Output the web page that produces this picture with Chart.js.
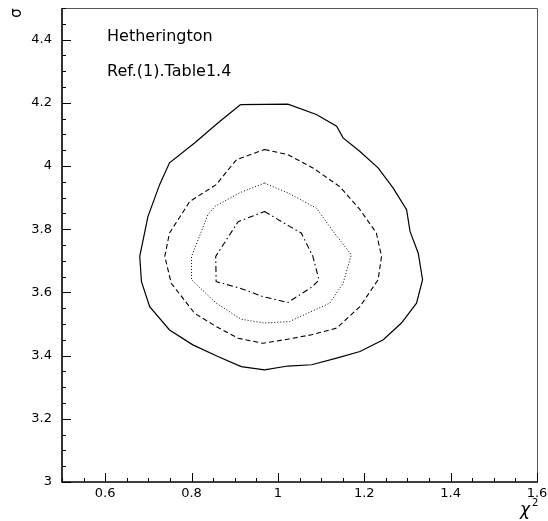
<!DOCTYPE html>
<html>
<head>
<meta charset="utf-8">
<script src="https://cdn.jsdelivr.net/npm/chart.js@4.4.1/dist/chart.umd.min.js"></script>
<style>
  html, body { margin: 0; padding: 0; background: #fff; }
  #chart { display: block; }
</style>
</head>
<body>
<canvas id="chart" width="548" height="521"></canvas>
<script>
// contour levels (chi2, sigma)
var solidX = [0.913, 1.023, 1.089, 1.136, 1.151, 1.190, 1.232, 1.267, 1.298, 1.306, 1.325, 1.335, 1.321, 1.286, 1.244, 1.190, 1.136, 1.078, 1.023, 0.969, 0.915, 0.861, 0.803, 0.749, 0.703, 0.684, 0.680, 0.699, 0.726, 0.749, 0.807, 0.861, 0.913];
var solidY = [4.194, 4.196, 4.163, 4.126, 4.089, 4.046, 3.994, 3.930, 3.862, 3.793, 3.724, 3.640, 3.566, 3.503, 3.450, 3.413, 3.392, 3.371, 3.367, 3.355, 3.365, 3.397, 3.434, 3.481, 3.555, 3.634, 3.714, 3.840, 3.941, 4.010, 4.073, 4.136, 4.194];

var dashedX = [0.969, 1.023, 1.081, 1.143, 1.190, 1.228, 1.240, 1.232, 1.190, 1.136, 1.078, 1.023, 0.965, 0.908, 0.857, 0.807, 0.753, 0.738, 0.749, 0.796, 0.857, 0.904, 0.969];
var dashedY = [4.052, 4.036, 3.994, 3.935, 3.862, 3.788, 3.714, 3.640, 3.555, 3.487, 3.466, 3.452, 3.439, 3.455, 3.492, 3.534, 3.629, 3.714, 3.788, 3.888, 3.941, 4.020, 4.052];

var dottedX = [0.969, 1.023, 1.089, 1.128, 1.170, 1.151, 1.120, 1.027, 0.969, 0.915, 0.857, 0.800, 0.800, 0.838, 0.854, 0.911, 0.969];
var dottedY = [3.946, 3.915, 3.867, 3.793, 3.719, 3.629, 3.566, 3.508, 3.503, 3.515, 3.566, 3.640, 3.714, 3.846, 3.872, 3.915, 3.946];

var dashDotX = [0.969, 1.027, 1.054, 1.081, 1.095, 1.081, 1.023, 0.965, 0.911, 0.857, 0.856, 0.908, 0.969];
var dashDotY = [3.856, 3.809, 3.788, 3.714, 3.640, 3.619, 3.568, 3.587, 3.614, 3.634, 3.714, 3.824, 3.856];

var xTicks = [0.6, 0.8, 1, 1.2, 1.4, 1.6];
var xTickLabels = ["0.6", "0.8", "1", "1.2", "1.4", "1.6"];
var yTicks = [3, 3.2, 3.4, 3.6, 3.8, 4, 4.2, 4.4];
var yTickLabels = ["3", "3.2", "3.4", "3.6", "3.8", "4", "4.2", "4.4"];

function pts(xs, ys) {
  return xs.map(function (x, i) { return { x: x, y: ys[i] }; });
}

function line(xs, ys, dash, width) {
  return {
    data: pts(xs, ys),
    showLine: true,
    borderColor: "#000",
    borderWidth: width,
    borderDash: dash,
    pointRadius: 0,
    tension: 0,
    fill: false,
  };
}

var font = "'DejaVu Sans', 'Liberation Sans', sans-serif";

// axes, inward ticks and texts (PAW style frame)
var frame = {
  id: "frame",
  afterDraw: function (chart) {
    var ctx = chart.ctx;
    var a = chart.chartArea;
    var xs = chart.scales.x;
    var ys = chart.scales.y;
    ctx.save();

    // top and right border
    ctx.strokeStyle = "#555";
    ctx.lineWidth = 1;
    ctx.beginPath();
    ctx.moveTo(a.left, a.top + 0.5);
    ctx.lineTo(a.right + 0.5, a.top + 0.5);
    ctx.lineTo(a.right + 0.5, a.bottom);
    ctx.stroke();

    // left and bottom axis
    ctx.strokeStyle = "#000";
    ctx.lineWidth = 1.6;
    ctx.beginPath();
    ctx.moveTo(a.left, a.top);
    ctx.lineTo(a.left, a.bottom);
    ctx.lineTo(a.right + 1, a.bottom);
    ctx.stroke();

    // ticks every 0.05, major every 0.2
    ctx.lineWidth = 1;
    ctx.beginPath();
    for (var i = 10; i <= 32; i++) {
      var px = Math.round(xs.getPixelForValue(i * 0.05)) + 0.5;
      var major = (i % 4 === 0);
      ctx.moveTo(px, a.bottom);
      ctx.lineTo(px, a.bottom - (major ? 9 : 4));
    }
    for (var j = 60; j <= 90; j++) {
      var py = Math.round(ys.getPixelForValue(j * 0.05)) + 0.5;
      var majorY = (j % 4 === 0);
      ctx.moveTo(a.left, py);
      ctx.lineTo(a.left + (majorY ? 9 : 4), py);
    }
    ctx.stroke();

    // tick labels
    ctx.fillStyle = "#000";
    ctx.font = "13px " + font;
    ctx.textAlign = "center";
    ctx.textBaseline = "middle";
    xTicks.forEach(function (v, k) {
      ctx.fillText(xTickLabels[k], xs.getPixelForValue(v), a.bottom + 12);
    });
    ctx.textAlign = "right";
    yTicks.forEach(function (v, k) {
      ctx.fillText(yTickLabels[k], a.left - 10, ys.getPixelForValue(v));
    });

    // axis titles
    ctx.save();
    ctx.translate(17, 13);
    ctx.rotate(-Math.PI / 2);
    ctx.textAlign = "center";
    ctx.font = "15px " + font;
    ctx.fillText("σ", 0, 0);
    ctx.restore();

    ctx.textAlign = "left";
    ctx.font = "italic 17px " + font;
    ctx.fillText("χ", 520, 511);
    ctx.font = "10px " + font;
    ctx.fillText("2", 532, 503);

    // labels in the plot
    ctx.font = "16px " + font;
    ctx.fillText("Hetherington", 107, 37);
    ctx.fillText("Ref.(1).Table1.4", 107, 72);

    ctx.restore();
  }
};

var chart = new Chart(document.getElementById("chart"), {
  type: "scatter",
  data: {
    datasets: [
      line(solidX, solidY, [], 1.2),
      line(dashedX, dashedY, [5, 3], 1.1),
      line(dottedX, dottedY, [1, 2], 1),
      line(dashDotX, dashDotY, [6, 3, 1.5, 3], 1.1),
    ],
  },
  options: {
    responsive: false,
    animation: false,
    events: [],
    layout: { padding: { left: 62, right: 11, top: 8, bottom: 39 } },
    plugins: { legend: { display: false }, tooltip: { enabled: false } },
    scales: {
      x: { type: "linear", min: 0.5, max: 1.6, display: false },
      y: { type: "linear", min: 3, max: 4.5, display: false },
    },
  },
  plugins: [frame],
});
</script>
</body>
</html>
